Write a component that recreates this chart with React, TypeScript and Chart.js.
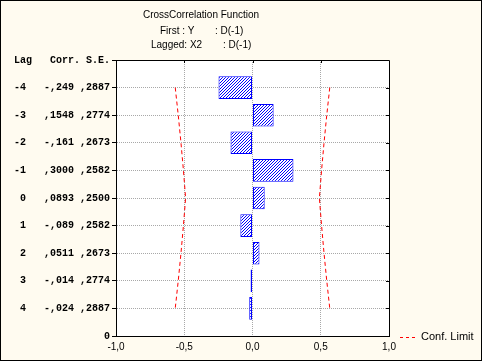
import React, { useEffect, useRef } from 'react';
import { Chart, registerables } from 'chart.js';

Chart.register(...registerables);

// ---- data ----
const lags = ['-4', '-3', '-2', '-1', '0', '1', '2', '3', '4'];
const corrLabels = ['-,249', ',1548', '-,161', ',3000', ',0893', '-,089', ',0511', '-,014', '-,024'];
const seLabels = [',2887', ',2774', ',2673', ',2582', ',2500', ',2582', ',2673', ',2774', ',2887'];
const rowPositions = [9, 8, 7, 6, 5, 4, 3, 2, 1];
const upperLimit = [0.566, 0.544, 0.524, 0.506, 0.49, 0.506, 0.524, 0.544, 0.566];
const lowerLimit = [-0.566, -0.544, -0.524, -0.506, -0.49, -0.506, -0.524, -0.544, -0.566];
const headerLabel = 'Lag   Corr. S.E.';
const bottomLabel = '0';
const xTickValues = [-1, -0.5, 0, 0.5, 1];
const xTickLabels = ['-1,0', '-0,5', '0,0', '0,5', '1,0'];
const titleText = 'CrossCorrelation Function';
const firstLabel = ['First : Y', ': D(-1)'];
const laggedLabel = ['Lagged: X2', ': D(-1)'];
const legendLabel = 'Conf. Limit';

const corrValues = corrLabels.map((s) => parseFloat(s.replace(',', '.')));

const SANS = '"Liberation Sans", Arial, sans-serif';
const MONO = '"Liberation Mono", "DejaVu Sans Mono", monospace';

function makeHatch(): CanvasPattern | string {
  const n = 3;
  const c = document.createElement('canvas');
  c.width = n;
  c.height = n;
  const g = c.getContext('2d');
  if (!g) return '#ffffff';
  g.fillStyle = '#ffffff';
  g.fillRect(0, 0, n, n);
  g.fillStyle = '#0000ff';
  for (let i = 0; i < n; i++) g.fillRect(i, n - 1 - i, 1, 1);
  const ctx = document.createElement('canvas').getContext('2d');
  return (ctx && ctx.createPattern(c, 'repeat')) || '#ffffff';
}

const decorPlugin = {
  id: 'decor',
  beforeDraw(chart: any) {
    const { ctx, chartArea: a, width, height } = chart;
    ctx.save();
    ctx.fillStyle = '#fffbf0';
    ctx.fillRect(0, 0, width, height);
    ctx.fillStyle = '#ffffff';
    ctx.fillRect(a.left, a.top, a.right - a.left, a.bottom - a.top);
    ctx.restore();
  },
  afterDraw(chart: any) {
    const { ctx, chartArea: a, width, height } = chart;
    const xs = chart.scales.x;
    const ys = chart.scales.y;
    ctx.save();
    ctx.strokeStyle = '#000000';
    ctx.lineWidth = 1;
    // top & right border of plot
    ctx.beginPath();
    ctx.moveTo(Math.round(a.left) + 0.5, Math.round(a.top) + 0.5);
    ctx.lineTo(Math.round(a.right) + 0.5, Math.round(a.top) + 0.5);
    ctx.lineTo(Math.round(a.right) + 0.5, Math.round(a.bottom) + 0.5);
    ctx.stroke();
    // inward ticks on top
    ctx.beginPath();
    [-0.5, 0, 0.5].forEach((v) => {
      const px = Math.round(xs.getPixelForValue(v)) + 0.5;
      ctx.moveTo(px, a.top);
      ctx.lineTo(px, a.top + 3);
    });
    // inward ticks on right
    rowPositions.forEach((p) => {
      const py = Math.round(ys.getPixelForValue(p)) + 0.5;
      ctx.moveTo(a.right, py);
      ctx.lineTo(a.right - 3, py);
    });
    ctx.stroke();
    // outer frame
    ctx.strokeRect(0.5, 0.5, width - 1, height - 1);

    // titles
    ctx.fillStyle = '#000000';
    ctx.font = `10px ${SANS}`;
    ctx.textBaseline = 'middle';
    ctx.textAlign = 'center';
    ctx.fillText(titleText, 201, 15);
    ctx.textAlign = 'left';
    ctx.fillText(firstLabel[0], 160, 31);
    ctx.fillText(firstLabel[1], 215, 31);
    ctx.fillText(laggedLabel[0], 151, 45);
    ctx.fillText(laggedLabel[1], 223, 45);

    // legend
    ctx.strokeStyle = '#ff0000';
    ctx.setLineDash([3, 3]);
    ctx.beginPath();
    ctx.moveTo(400, 337.5);
    ctx.lineTo(415, 337.5);
    ctx.stroke();
    ctx.setLineDash([]);
    ctx.font = `11px ${SANS}`;
    ctx.fillStyle = '#000000';
    ctx.fillText(legendLabel, 421, 337);
    ctx.restore();
  },
};

export default function App() {
  const ref = useRef<HTMLCanvasElement | null>(null);

  useEffect(() => {
    document.body.style.margin = '0';
    const canvas = ref.current;
    if (!canvas) return;
    const hatch = makeHatch();

    const yLabel = (v: number) => {
      if (v === 10) return headerLabel;
      if (v === 0) return bottomLabel;
      const i = rowPositions.indexOf(v);
      if (i < 0) return '';
      return lags[i].padStart(2, ' ') + '   ' + corrLabels[i].padStart(5, ' ') + ' ' + seLabels[i];
    };

    const chart = new Chart(canvas, {
      type: 'bar',
      data: {
        datasets: [
          {
            type: 'bar',
            label: 'Corr.',
            data: rowPositions.map((p, i) => ({ x: corrValues[i], y: p })),
            backgroundColor: hatch as any,
            borderColor: '#0000ff',
            borderWidth: 1,
            borderSkipped: false,
            barPercentage: 0.82,
            categoryPercentage: 1,
          } as any,
          {
            type: 'line',
            label: legendLabel,
            data: rowPositions.map((p, i) => ({ x: upperLimit[i], y: p })),
            borderColor: '#ff0000',
            borderWidth: 1,
            borderDash: [4, 3],
            pointRadius: 0,
            fill: false,
            tension: 0,
          } as any,
          {
            type: 'line',
            label: legendLabel,
            data: rowPositions.map((p, i) => ({ x: lowerLimit[i], y: p })),
            borderColor: '#ff0000',
            borderWidth: 1,
            borderDash: [4, 3],
            pointRadius: 0,
            fill: false,
            tension: 0,
          } as any,
        ],
      },
      options: {
        indexAxis: 'y',
        responsive: false,
        animation: false,
        devicePixelRatio: 1,
        layout: { padding: { left: 0, right: 93, top: 60, bottom: 0 } },
        plugins: {
          legend: { display: false },
          title: { display: false },
          tooltip: { enabled: false },
        },
        scales: {
          x: {
            type: 'linear',
            min: -1,
            max: 1,
            afterFit: (s: any) => {
              s.height = 25;
            },
            afterBuildTicks: (s: any) => {
              s.ticks = xTickValues.map((v) => ({ value: v }));
            },
            ticks: {
              autoSkip: false,
              maxRotation: 0,
              padding: 5,
              color: '#000000',
              font: { family: SANS, size: 10 },
              callback: (v: any) => {
                const i = xTickValues.indexOf(Number(v));
                return i >= 0 ? xTickLabels[i] : '';
              },
            },
            grid: {
              drawTicks: false,
              color: (c: any) =>
                c.tick && (c.tick.value === -1 || c.tick.value === 1) ? 'rgba(0,0,0,0)' : '#a8a8a8',
            },
            border: { display: true, color: '#000000', width: 1, dash: [1, 1] },
          } as any,
          y: {
            type: 'linear',
            min: 0,
            max: 10,
            offset: false,
            afterFit: (s: any) => {
              s.width = 116;
            },
            afterBuildTicks: (s: any) => {
              s.ticks = [0, 1, 2, 3, 4, 5, 6, 7, 8, 9, 10].map((v) => ({ value: v }));
            },
            ticks: {
              autoSkip: false,
              padding: 2,
              color: '#000000',
              font: { family: MONO, size: 10, weight: 'bold' },
              callback: (v: any) => yLabel(Number(v)),
            },
            grid: {
              offset: false,
              drawTicks: true,
              tickLength: 4,
              tickColor: '#000000',
              tickBorderDash: [],
              color: (c: any) =>
                c.tick && (c.tick.value === 0 || c.tick.value === 10) ? 'rgba(0,0,0,0)' : '#a8a8a8',
            },
            border: { display: true, color: '#000000', width: 1, dash: [1, 1] },
          } as any,
        },
      } as any,
      plugins: [decorPlugin],
    });

    return () => chart.destroy();
  }, []);

  return (
    <div style={{ width: 482, height: 361 }}>
      <canvas ref={ref} width={482} height={361} style={{ display: 'block' }} />
    </div>
  );
}
